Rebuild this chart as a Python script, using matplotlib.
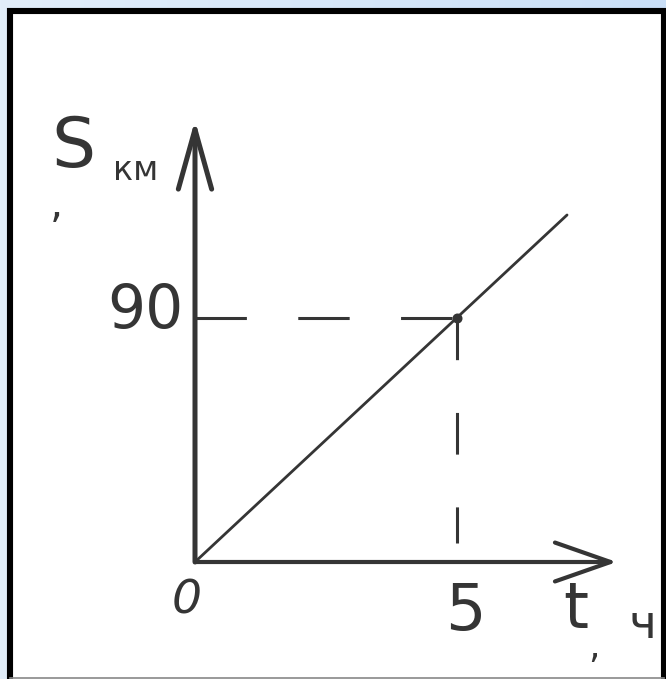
import numpy as np
import matplotlib
matplotlib.use("Agg")
import matplotlib.pyplot as plt
from matplotlib.patches import Rectangle
from matplotlib.lines import Line2D
from matplotlib.colors import LinearSegmentedColormap

plt.rcParams['lines.scale_dashes'] = False

# data
t_line = [0, 7.1]          # hours
s_line = [0, 128]          # km
t_mark = 5
s_mark = 90
t_axis_end = 8.05
s_axis_end = 163
x_tick_labels = ["0", "5"]
y_tick_labels = ["90"]
x_label = ["t", ",", "ч"]
y_label = ["S", ",", "км"]

W, H = 666, 679
fig = plt.figure(figsize=(W / 100, H / 100), dpi=100)

def fx(px):
    return px / W

def fy(py):
    return 1 - py / H

# gradient background
bg = fig.add_axes([0, 0, 1, 1])
grad = np.linspace(0, 1, 256)[None, :]
cm = LinearSegmentedColormap.from_list("bg", ["#e2eefa", "#c9def6"])
bg.imshow(grad, aspect="auto", cmap=cm, extent=[0, 1, 0, 1])
bg.set_axis_off()

# white frame with black border
fig.patches.append(Rectangle((fx(10), fy(690)), fx(654), fy(10.5) - fy(690),
                             transform=fig.transFigure, facecolor="white",
                             edgecolor="black", linewidth=4.4, zorder=1))
fig.lines.append(Line2D([fx(10), fx(664)], [fy(678), fy(678)], transform=fig.transFigure,
                        color="#888888", linewidth=1.2, zorder=2))

# data axes: origin at pixel (195, 562); t=5 at px 457; s=90 at py 318
ax = fig.add_axes([0, 0, 1, 1], zorder=3)
ax.patch.set_alpha(0)
px_per_t = (457 - 195) / 5
px_per_s = (562 - 318) / 90
ax.set_xlim(-195 / px_per_t, (W - 195) / px_per_t)
ax.set_ylim(-(H - 562) / px_per_s, 562 / px_per_s)
ax.set_axis_off()

ink = "#353535"

# axes with open arrowheads
ax.annotate("", xy=(t_axis_end, 0), xytext=(0, 0),
            arrowprops=dict(arrowstyle="->,head_length=4,head_width=1.4",
                            color=ink, lw=3.0, mutation_scale=10, shrinkA=0, shrinkB=0))
ax.annotate("", xy=(0, s_axis_end), xytext=(0, 0),
            arrowprops=dict(arrowstyle="->,head_length=4.3,head_width=1.2",
                            color=ink, lw=3.6, mutation_scale=10, shrinkA=0, shrinkB=0))

# main line
ax.plot(t_line, s_line, color=ink, lw=2.0, solid_capstyle="round")

# dashed guides
ax.plot([0, t_mark], [s_mark, s_mark], color=ink, lw=2.2, dashes=(37, 37))
ax.plot([t_mark, t_mark], [s_mark, 7], color=ink, lw=2.2, dashes=(30, 38))
ax.plot([t_mark], [s_mark], marker="o", ms=6, mfc=ink, mec=ink, mew=1.2)

fam = ["DejaVu Sans"]
fkw = dict(color=ink, family=fam, ha="center", va="center", transform=fig.transFigure)

# y label
fig.text(fx(73), fy(148), y_label[0], fontsize=50, **fkw)
fig.text(fx(56), fy(205), y_label[1], fontsize=30, **fkw)
fig.text(fx(136), fy(170), y_label[2], fontsize=24, **fkw)

# tick labels
fig.text(fx(145), fy(312), y_tick_labels[0], fontsize=43, **fkw)
fig.text(fx(187), fy(601), x_tick_labels[0], fontsize=34, style="italic", **fkw)
fig.text(fx(465), fy(612), x_tick_labels[1], fontsize=46, **fkw)

# x label
fig.text(fx(576), fy(610), x_label[0], fontsize=46, **fkw)
fig.text(fx(594), fy(648), x_label[1], fontsize=26, **fkw)
fig.text(fx(642), fy(626), x_label[2], fontsize=34, **fkw)

fig.savefig("out.png", dpi=100)
